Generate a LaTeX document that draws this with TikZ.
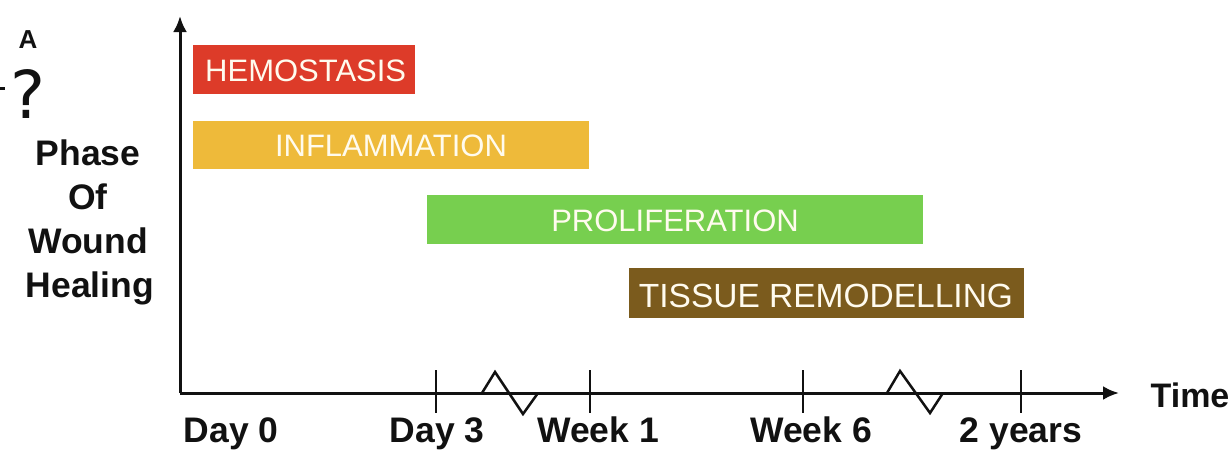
\documentclass[tikz,border=0pt]{standalone}
\usepackage{fontspec}
\setmainfont{Liberation Sans}
\newfontfamily\qfont{DejaVu Sans}
\usetikzlibrary{arrows.meta}
\definecolor{hemo}{HTML}{DD3B29}
\definecolor{infl}{HTML}{EEBA3A}
\definecolor{prol}{HTML}{77CF4F}
\definecolor{remo}{HTML}{7B5B1D}
\definecolor{ink}{HTML}{111111}
\definecolor{barink}{HTML}{FFFBEE}
\begin{document}
\begin{tikzpicture}[x=1pt,y=-1pt,
  axisline/.style={line width=3pt,draw=ink},
  tickline/.style={line width=2.5pt,draw=ink},
  axlabel/.style={font=\fontsize{35.5}{40}\selectfont\bfseries,text=ink,anchor=base,inner sep=0pt},
  phasebar/.style={inner sep=0pt,outer sep=0pt,anchor=north west},
  bartext/.style={font=\fontsize{31}{36}\selectfont,text=barink,anchor=base,inner sep=0pt}]
\useasboundingbox (0,0) rectangle (1232,453);
% bars
\node[phasebar,fill=hemo,minimum width=222pt,minimum height=49pt] (hb) at (193,45) {};
\node[phasebar,fill=infl,minimum width=396pt,minimum height=48pt] (ib) at (193,121) {};
\node[phasebar,fill=prol,minimum width=496pt,minimum height=49pt] (pb) at (427,195) {};
\node[phasebar,fill=remo,minimum width=395pt,minimum height=50pt] (rb) at (629,268) {};
\node[bartext,anchor=base west] (ht) at (205,81) {HEMOSTASIS};
\node[bartext] (it) at (391,156) {INFLAMMATION};
\node[bartext] (pt) at (675,231) {PROLIFERATION};
\node[bartext,font=\fontsize{33.5}{38}\selectfont] (rt) at (826,307) {TISSUE REMODELLING};
% axes
\coordinate (o) at (180,393);
\coordinate (ytop) at (180,16);
\coordinate (xend) at (1119,393);
\draw[axisline,-{Latex[length=16pt,width=14pt]}] (o) -- (ytop);
\draw[axisline,-{Latex[length=16pt,width=14pt]}] (o) -- (xend);
% ticks
\foreach \n/\x in {d3/436,w1/590,w6/803,y2/1021}{
  \coordinate (\n a) at (\x,370);
  \coordinate (\n b) at (\x,413);
  \draw[tickline] (\n a) -- (\n b);
}
% breaks
\coordinate (z1a) at (482,393); \coordinate (z1b) at (495,372);
\coordinate (z1c) at (523,414); \coordinate (z1d) at (538,393);
\draw[tickline,line join=miter] (z1a) -- (z1b) -- (z1c) -- (z1d);
\coordinate (z2a) at (887,393); \coordinate (z2b) at (900,371);
\coordinate (z2c) at (930,413); \coordinate (z2d) at (943,393);
\draw[tickline,line join=miter] (z2a) -- (z2b) -- (z2c) -- (z2d);
% axis labels
\node[axlabel] (l0) at (231,442) {Day 0};
\node[axlabel] (l3) at (437,442) {Day 3};
\node[axlabel] (l1) at (598,442) {Week 1};
\node[axlabel] (l6) at (811,442) {Week 6};
\node[axlabel] (l2) at (1021,442) {2 years};
\node[axlabel,font=\fontsize{34}{40}\selectfont\bfseries] (lt) at (1190,407) {Time};
% y label
\node[axlabel] (p1) at (88,165) {Phase};
\node[axlabel] (p2) at (88,209) {Of};
\node[axlabel] (p3) at (88,253) {Wound};
\node[axlabel] (p4) at (90,297) {Healing};
% panel letter and stray mark
\node[font=\fontsize{26}{30}\selectfont\bfseries,text=ink,anchor=base,inner sep=0pt] (pa) at (28,48) {A};
\node[font=\qfont\fontsize{66}{70}\selectfont,text=ink,anchor=base west,inner sep=0pt] (qm) at (10,118) {?};
\coordinate (sa) at (0,88); \coordinate (sb) at (5,88);
\draw[line width=3pt,draw=ink] (sa) -- (sb);
\end{tikzpicture}
\end{document}
